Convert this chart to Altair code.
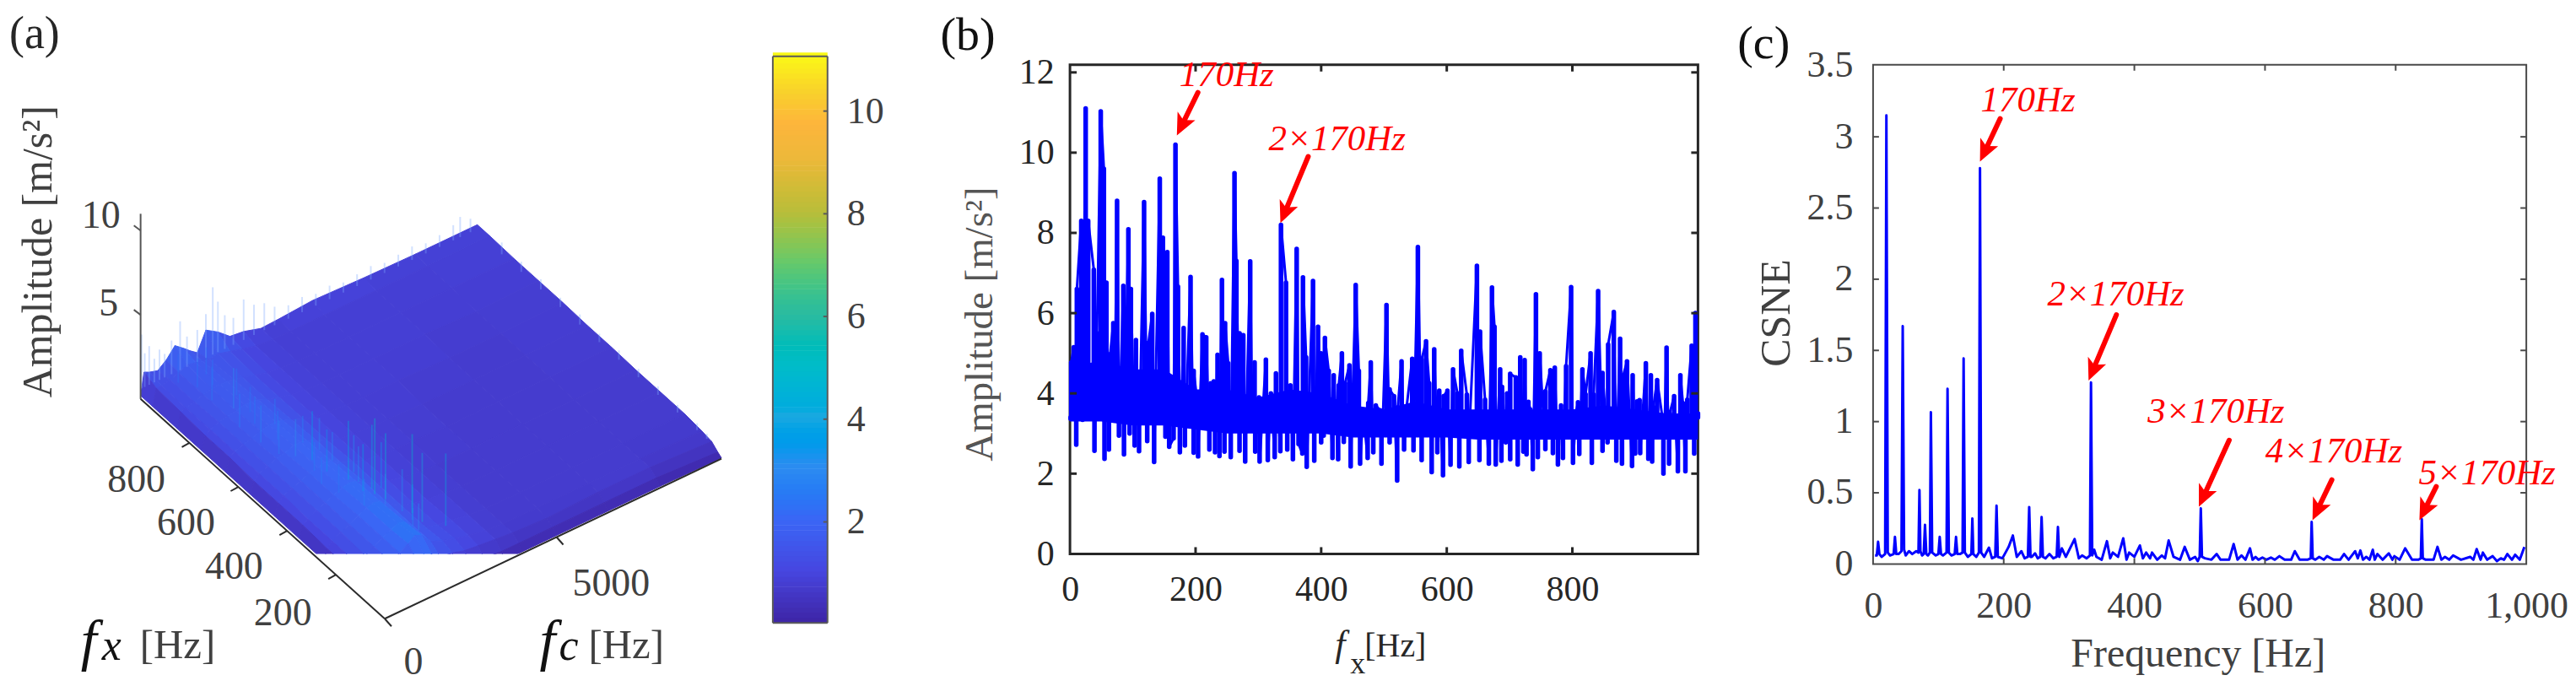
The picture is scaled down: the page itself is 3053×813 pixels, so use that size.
import math
import altair as alt
import pandas as pd

SERIF = "Liberation Serif"
RED = "#ff0000"
BLUE = "#0000ff"
DARK = "#262626"
MID = "#404040"

# ---------- panel (a): surface, rows = fx [Hz], columns = fc [Hz]
surf_fx = [0, 15, 40, 80, 150, 250, 350, 450, 550, 650, 750, 850, 950, 1000]
surf_fc = [0, 100, 250, 500, 750, 1000, 1250, 1450, 1650, 1900, 2250, 2600, 3000, 3500, 4000, 5000, 6500, 8000, 9800]
surf_amp = [
    [.05, .1, .1, .1, .1, .1, .1, .1, .1, .1, .1, .1, .1, .1, .1, .1, .1, .1, .05],
    [.1, .3, .4, .5, .6, .7, .8, .9, .9, .7, .6, .5, .5, .4, .4, .4, .4, .4, .2],
    [.2, .6, .8, 1.0, 1.2, 1.4, 1.6, 1.8, 1.7, 1.3, 1.2, 1.0, .9, .8, .7, .6, .7, .7, .5],
    [.2, .7, 1.0, 1.3, 1.6, 1.9, 2.2, 2.5, 2.3, 1.7, 1.4, 1.2, 1.0, .8, .7, .7, .7, .7, .6],
    [.2, .8, 1.1, 1.3, 1.6, 1.9, 2.1, 2.3, 2.2, 1.7, 1.3, 1.1, 1.0, .8, .7, .7, .7, .7, .7],
    [.2, .8, 1.1, 1.4, 1.6, 1.9, 2.1, 2.2, 2.1, 1.7, 1.3, 1.1, .9, .8, .7, .7, .7, .7, .7],
    [.2, .9, 1.1, 1.4, 1.6, 1.8, 2.0, 2.1, 2.0, 1.7, 1.3, 1.1, .9, .8, .7, .7, .7, .7, .7],
    [.2, .9, 1.2, 1.4, 1.6, 1.8, 1.9, 2.0, 1.9, 1.6, 1.3, 1.0, .9, .8, .8, .7, .7, .7, .75],
    [.2, .9, 1.2, 1.4, 1.6, 1.7, 1.9, 1.9, 1.8, 1.6, 1.2, 1.0, .9, .8, .8, .7, .7, .7, .75],
    [.2, 1.0, 1.2, 1.4, 1.5, 1.7, 1.8, 1.8, 1.7, 1.5, 1.2, 1.0, .9, .8, .8, .8, .7, .7, .8],
    [.2, 1.0, 1.2, 1.4, 1.5, 1.6, 1.7, 1.7, 1.6, 1.4, 1.2, 1.0, .9, .8, .8, .8, .8, .7, .8],
    [.2, 1.1, 1.2, 1.3, 1.5, 1.6, 1.6, 1.6, 1.5, 1.4, 1.2, 1.0, .9, .8, .8, .8, .8, .8, .8],
    [.2, 1.2, 1.2, 1.3, 1.5, 1.7, 1.6, 1.5, 1.4, 1.5, 1.3, 1.1, .9, .8, .8, .8, .8, .8, .85],
    [.2, 1.5, 1.35, 1.2, 1.6, 2.2, 1.8, 1.45, 1.15, 2.25, 1.8, 1.2, 1.1, .8, .85, 1.0, .9, .85, .85],
]
# vertical streaks on the surface: fx, fc, height
streak_fx = [170, 190, 130, 250, 280, 320, 300, 360, 420, 480, 520, 560, 620, 700, 760, 820, 880, 930, 100, 110, 140, 210, 230, 350, 400, 260, 340, 440, 600, 680, 500, 540, 640, 720, 790, 860, 900, 450, 380, 310]
streak_fc = [2300, 2150, 2700, 1800, 1700, 1900, 1500, 1500, 1300, 1300, 1100, 900, 800, 750, 1000, 800, 800, 600, 1700, 1600, 1800, 2000, 1650, 1150, 1000, 1250, 1650, 1600, 1150, 1050, 1650, 1450, 1350, 1200, 1300, 1100, 1200, 1150, 1800, 2100]
streak_amp = [5.4, 6.4, 5.5, 6.0, 6.6, 5.5, 5.0, 5.6, 4.5, 4.8, 4.0, 3.6, 3.8, 3.5, 4.0, 3.5, 3.2, 3.0, 3.9, 3.6, 4.4, 4.2, 4.0, 3.5, 3.4, 3.7, 4.2, 3.8, 3.4, 3.3, 3.8, 3.6, 3.4, 3.2, 3.3, 3.1, 3.2, 3.5, 4.2, 4.4]
# fringe of the far edge (fx = 1000): fc, height
edge_fc = [30, 120, 250, 400, 550, 700, 900, 1150, 1350, 1650, 1900, 2100, 2250, 2450, 2700, 3000, 3300, 3600, 3900, 4300, 4700, 5100, 5500, 5900, 6300, 6700, 7100, 7500, 7900, 8300, 8700, 9100, 9300, 9600]
edge_amp = [3.8, 2.6, 2.9, 2.0, 2.4, 2.0, 2.6, 3.5, 2.4, 2.5, 3.2, 4.6, 3.6, 2.6, 2.2, 3.0, 2.4, 2.2, 1.7, 1.4, 1.5, 1.3, 1.4, 1.2, 1.3, 1.4, 1.2, 1.3, 1.4, 1.2, 1.3, 1.5, 1.8, 1.4]
# fringe of the right edge (fc = 9800): fx, height
right_fx = [900, 820, 740, 660, 580, 500, 420, 340, 260, 180, 100, 60]
right_amp = [1.1, 1.0, 1.0, .95, 1.0, .9, .95, .9, .9, .85, .8, .7]

colorbar_ticks = [2, 4, 6, 8, 10]
parula_at = [.03, 1, 2, 3, 4, 5, 6, 7, 8, 9, 9.7, 10.3, 11.07]
parula_col = ["#3e26a8", "#4646e0", "#3a66f5", "#2d8bf0", "#1ba8e0", "#02bcc8", "#2bbb9f", "#66c96b", "#b9bd3a", "#ecb83a", "#fdb53c", "#f8d02c", "#f9fb15"]

# ---------- panel (b): peaks and troughs of the envelope spectrum
b_peak_f = [2, 6, 11, 18, 25, 29, 38, 43, 49, 54, 58, 64, 69, 75, 85, 93, 97, 105, 118, 125, 131, 143, 148, 155, 168, 172, 181, 192, 197, 203, 211, 217, 224, 229, 235, 242, 247, 252, 262, 265, 270, 276, 287, 294, 301, 312, 320, 328,
            336, 344, 351, 361, 371, 376, 387, 395, 400, 406, 412, 420, 428, 433, 438, 445, 455, 460, 467, 475, 479, 487, 494, 504, 509, 516, 522, 528, 536, 545, 554, 560, 567, 572, 580, 588, 595, 601, 610, 617, 623, 632, 637, 648, 653, 661,
            672, 676, 685, 688, 696, 701, 710, 717, 724, 730, 733, 742, 748, 757, 765, 772, 782, 790, 798, 806, 809, 816, 821, 829, 834, 841, 848, 857, 866, 876, 881, 887, 896, 903, 907, 917, 925, 929, 935, 943, 950, 955, 962, 972, 976, 983, 990, 996, 1000]
b_peak_v = [4.77, 5.15, 6.6, 8.3, 11.1, 8.3, 7.08, 5.5, 11.03, 9.6, 6.76, 4.98, 5.75, 8.8, 6.68, 8.09, 6.6, 5.33, 8.77, 5.26, 5.98, 9.35, 7.88, 7.52, 10.2, 6.66, 5.63, 6.9, 4.56, 3.76, 5.47, 5.4, 4.25, 4.3, 4.96, 6.83, 5.75, 4.75, 9.49, 7.3, 5.5, 5.45, 7.29, 4.77, 3.9, 4.84, 4.0, 4.5,
            8.2, 6.76, 4.2, 7.6, 6.89, 4.9, 6.8, 5.66, 5.0, 5.38, 4.56, 4.45, 4.2, 5.0, 4.25, 4.7, 6.7, 4.56, 3.5, 3.76, 4.77, 3.7, 3.58, 6.2, 4.1, 3.93, 3.65, 4.8, 3.65, 4.86, 7.65, 4.84, 5.3, 4.25, 5.1, 4.07, 3.93, 4.07, 4.6, 4.0, 5.06, 3.97, 3.44, 7.18, 5.54, 3.84,
            6.64, 5.66, 4.6, 4.16, 4.0, 4.49, 4.4, 4.9, 4.83, 3.79, 3.6, 6.47, 5.0, 4.05, 4.58, 4.64, 3.7, 4.68, 6.65, 3.55, 3.78, 4.6, 3.98, 5.0, 3.97, 6.55, 4.51, 5.22, 6.03, 5.36, 4.45, 4.8, 4.45, 3.8, 3.83, 4.75, 4.45, 3.66, 4.33, 3.44, 5.14, 3.5, 3.93, 4.45, 3.76, 3.84, 5.19, 6.0, 3.5]
b_trough_f = [1, 10, 20, 27, 39, 55, 62, 71, 78, 86, 95, 103, 110, 123, 134, 147, 152, 158, 165, 175, 183, 197, 204, 222, 231, 238, 246, 256, 270, 279, 290, 295, 302, 315, 326,
              335, 346, 355, 364, 370, 377, 389, 400, 404, 418, 427, 436, 447, 462, 474, 483, 496, 509, 521, 532, 547, 560, 576, 585, 594, 606, 620, 635, 652, 667,
              678, 687, 694, 701, 713, 722, 727, 737, 745, 757, 769, 777, 785, 801, 811, 831, 848, 856, 870, 879, 895, 900, 908, 921, 927, 945, 954, 968, 980, 994]
b_trough_v = [3.37, 2.72, 3.34, 3.4, 2.57, 2.37, 2.6, 3.49, 2.95, 2.48, 3.0, 2.7, 2.56, 2.81, 2.29, 3.37, 2.92, 2.67, 2.88, 2.53, 2.7, 2.52, 2.43, 2.6, 2.53, 2.44, 2.55, 2.41, 2.57, 2.3, 3.23, 2.55, 2.3, 2.34, 2.41,
              2.56, 2.6, 2.36, 2.74, 2.5, 2.17, 2.32, 2.78, 2.95, 2.39, 2.36, 2.79, 2.18, 2.25, 2.39, 2.53, 2.25, 2.78, 1.83, 2.6, 2.58, 2.34, 2.04, 2.53, 1.96, 2.22, 2.18, 2.29, 2.34, 2.25,
              2.23, 2.32, 2.78, 2.36, 2.23, 2.55, 2.48, 2.11, 2.41, 2.61, 2.51, 2.23, 2.39, 2.27, 2.49, 2.27, 2.57, 2.78, 2.32, 2.25, 2.19, 2.5, 2.51, 2.37, 2.3, 2.0, 2.25, 2.06, 2.06, 2.5]
# solid core of the trace, where it is too dense to see single swings
b_core_f = [0, 50, 100, 150, 200, 250, 300, 350, 400, 450, 500, 550, 600, 650, 700, 750, 800, 850, 900, 950, 1000]
b_core_lo = [3.3, 3.3, 3.2, 3.2, 3.1, 3.0, 3.0, 3.0, 3.0, 2.9, 2.9, 2.9, 2.9, 2.85, 2.85, 2.85, 2.85, 2.85, 2.85, 2.85, 2.85]
b_core_hi = [4.7, 4.8, 4.6, 4.6, 4.1, 4.1, 3.9, 4.1, 4.0, 3.7, 3.6, 3.8, 3.6, 3.6, 3.6, 3.6, 3.6, 3.7, 3.6, 3.5, 3.5]

# ---------- panel (c)
c_peak_f = [7.7, 20.4, 33.5, 45.4, 55, 71, 79.5, 88.5, 102, 114, 127, 138.6, 152, 163.7, 177.4, 189, 207.5, 214, 227, 239, 248, 258, 270, 283, 289, 308.5, 320, 333.6, 338.5, 358, 367, 383, 392, 408.5, 418, 427, 442, 452.5, 477, 493,
            501.7, 526, 552, 564, 577, 585.5, 596, 609, 622, 645.6, 671.4, 683, 695, 721, 738, 746, 755, 765, 772, 789.5, 798, 814.5, 840, 864, 875.5, 888, 914, 924, 933.5, 948.5, 961, 971, 983, 997]
c_peak_v = [.156, 3.15, .19, 1.67, .09, .52, .275, 1.066, .19, 1.23, .19, 1.444, .32, 2.78, .115, .41, .12, .2, .09, .40, .075, .33, .07, .26, .11, .175, .06, 1.275, .1, .16, .08, .18, .08, .13, .08, .08, .06, .165, .12, .05,
            .39, .07, .14, .06, .11, .05, .045, .045, .055, .09, .295, .05, .055, .07, .09, .095, .05, .1, .07, .075, .055, .11, .315, .12, .05, .06, .05, .105, .08, .055, .04, .07, .065, .12]
c_trough_f = [3, 13, 26, 39, 50, 60, 66, 75, 84, 96, 107, 120, 133, 145, 158, 170, 182, 198, 220, 232, 243, 252, 264, 276, 295, 315, 327, 342, 350, 363, 375, 388, 400, 413, 424, 435, 447, 460, 470, 485, 497, 508, 518, 532, 545, 558, 570, 581, 590, 602, 615, 630, 640, 653, 665, 677, 690, 705, 715, 728, 742, 750, 760, 768, 780, 795, 806, 825, 835, 846, 858, 870, 882, 900, 919, 930, 940, 955, 966, 978, 990,
              5.7, 9.7, 18.5, 22.5, 31.5, 35.5, 43.5, 47.5, 69.5, 72.5, 77.5, 81.5, 87, 90.5, 100, 104, 112.5, 116, 125, 129, 137, 140.5, 150.5, 153.5, 162, 165.5, 187, 191, 237, 241, 256, 260, 281, 285, 332, 335.5, 500, 503.5, 670, 673, 838.5, 841.5]
c_trough_v = [.06, .05, .06, .07, .06, .07, .09, .06, .06, .06, .06, .06, .07, .05, .05, .05, .04, .04, .05, .04, .05, .04, .04, .04, .05, .04, .04, .05, .03, .04, .05, .03, .05, .04, .04, .03, .04, .05, .03, .03, .02, .04, .03, .03, .03, .03, .03, .03, .03, .03, .03, .03, .03, .03, .03, .03, .03, .03, .03, .03, .04, .03, .03, .03, .03, .03, .03, .03, .03, .03, .03, .03, .03, .03, .03, .03, .03, .02, .03, .03, .03,
              .06, .07, .07, .08, .07, .07, .09, .1, .08, .09, .07, .07, .08, .08, .07, .07, .08, .08, .07, .07, .08, .08, .07, .07, .08, .08, .05, .05, .05, .05, .05, .05, .05, .05, .06, .06, .05, .05, .04, .04, .04, .04]

# ---------- page geometry of the three panels
TOP = 75
A_L, A_W, A_H = 8, 1054, 581
B_L, B_W, B_H = 1270, 746, 581
C_L, C_W, C_H = 2224, 776, 593
B_YMAX = 12.19
C_YMAX = 3.506
GAP = 208


def xy_page_a(px, py):
    return px, py


def xy_b(px, py):
    return (px - B_L) / B_W * 1000, (TOP + B_H - py) / B_H * B_YMAX


def xy_c(px, py):
    return (px - C_L) / C_W * 1000, (TOP + C_H - py) / C_H * C_YMAX


sx_a = alt.Scale(domain=[A_L, A_L + A_W], nice=False, zero=False)
sy_a = alt.Scale(domain=[TOP + A_H, TOP], nice=False, zero=False)
sx_b = alt.Scale(domain=[0, 1000], nice=False, zero=False)
sy_b = alt.Scale(domain=[0, B_YMAX], nice=False, zero=False)
sx_c = alt.Scale(domain=[0, 1000], nice=False, zero=False)
sy_c = alt.Scale(domain=[0, C_YMAX], nice=False, zero=False)
col_scale = alt.Scale(domain=parula_at, range=parula_col)


def make_axis(values, size, color, pad, fmt=None):
    kw = dict(values=values, title=None, grid=False, domain=False, ticks=False, labelFont=SERIF, labelFontSize=size,
              labelColor=color, labelPadding=pad, labelFlush=False)
    if fmt:
        kw["format"] = fmt
    return alt.Axis(**kw)


AXES = {
    id(sx_b): make_axis([0, 200, 400, 600, 800], 42, DARK, 22),
    id(sy_b): make_axis([0, 2, 4, 6, 8, 10, 12], 42, DARK, 19),
    id(sx_c): make_axis([0, 200, 400, 600, 800, 1000], 44, MID, 28),
    id(sy_c): make_axis([0, .5, 1, 1.5, 2, 2.5, 3, 3.5], 44, MID, 24, "~g"),
}


def enc_xy(sx, sy):
    return dict(x=alt.X("x:Q", scale=sx, axis=AXES.get(id(sx))), y=alt.Y("y:Q", scale=sy, axis=AXES.get(id(sy))))


def text_mark(txt, px, py, size, conv, sx, sy, color=DARK, italic=False, angle=0, align="left", baseline="alphabetic"):
    x, y = conv(px, py)
    kw = dict(font=SERIF, fontSize=size, color=color, align=align, baseline=baseline)
    if italic:
        kw["fontStyle"] = "italic"
    if angle:
        kw["angle"] = angle
    return alt.Chart(pd.DataFrame({"x": [x], "y": [y], "t": [txt]})).mark_text(**kw).encode(text="t:N", **enc_xy(sx, sy))


def arrow_marks(arrows, conv, sx, sy):
    out = []
    half = 15.0
    for (tx, ty, hx, hy) in arrows:
        L = math.hypot(hx - tx, hy - ty)
        ux, uy = (hx - tx) / L, (hy - ty) / L
        cx, cy = hx - ux * half, hy - uy * half
        ang = math.degrees(math.atan2(ux, -uy)) % 360
        x1, y1 = conv(tx, ty)
        x2, y2 = conv(cx, cy)
        shaft = pd.DataFrame({"x": [x1], "y": [y1], "x2": [x2], "y2": [y2]})
        out.append(alt.Chart(shaft).mark_rule(color=RED, strokeWidth=6, strokeCap="round").encode(
            x2="x2:Q", y2="y2:Q", **enc_xy(sx, sy)))
        head = pd.DataFrame({"x": [x2], "y": [y2], "a": [ang]})
        out.append(alt.Chart(head).mark_point(
            shape="M0,-1L0.78,0.72L0.08,0.32L-0.78,0.72Z", filled=True, opacity=1, color=RED,
            size=(2 * half) ** 2, strokeWidth=0).encode(angle=alt.Angle("a:Q", scale=None), **enc_xy(sx, sy)))
    return out


def box_ticks(xvals, yvals, xmax, ymax, xlen, ylen, color, width, sx, sy):
    rows = []
    for v in xvals:
        rows.append(dict(x=v, x2=v, y=0, y2=ylen))
        rows.append(dict(x=v, x2=v, y=ymax, y2=ymax - ylen))
    for v in yvals:
        rows.append(dict(x=0, x2=xlen, y=v, y2=v))
        rows.append(dict(x=xmax, x2=xmax - xlen, y=v, y2=v))
    return alt.Chart(pd.DataFrame(rows)).mark_rule(color=color, strokeWidth=width).encode(
        x2="x2:Q", y2="y2:Q", **enc_xy(sx, sy))


# ---------- panel (a)
def proj(fx, fc, amp):
    return (456 + 400 * fc / 9800 - 290 * fx / 1000, 733 - 190 * fc / 9800 - 261 * fx / 1000 - 20 * amp)


features = []
for i in range(len(surf_fx) - 2, -1, -1):
    for j in range(len(surf_fc) - 2, -1, -1):
        corners = [(i, j), (i, j + 1), (i + 1, j + 1), (i + 1, j)]
        ring = []
        for (r, c) in corners:
            px, py = proj(surf_fx[r], surf_fc[c], surf_amp[r][c])
            ring.append([px - A_L, py - TOP])
        ring.append(ring[0])
        amp = sum(surf_amp[r][c] for (r, c) in corners) / 4
        features.append({"type": "Feature", "properties": {"amp": amp},
                         "geometry": {"type": "Polygon", "coordinates": [ring]}})

surface = alt.Chart(alt.Data(values=features)).mark_geoshape(strokeWidth=1).encode(
    color=alt.Color("properties.amp:Q", scale=col_scale, legend=None),
    stroke=alt.Stroke("properties.amp:Q", scale=col_scale, legend=None),
).project(type="identity", scale=1, translate=[0, 0])


def surf_at(fx, fc):
    i = max(k for k in range(len(surf_fx)) if surf_fx[k] <= fx)
    j = max(k for k in range(len(surf_fc)) if surf_fc[k] <= fc)
    return surf_amp[i][j]


rows = []
for fx, fc, a in zip(streak_fx, streak_fc, streak_amp):
    x0, y0 = proj(fx, fc, surf_at(fx, fc))
    x1, y1 = proj(fx, fc, a)
    rows.append(dict(x=x0, y=y0, x2=x1, y2=y1, amp=a * 0.75))
streaks = alt.Chart(pd.DataFrame(rows)).mark_rule(strokeWidth=1.8, opacity=0.4).encode(
    x2="x2:Q", y2="y2:Q", color=alt.Color("amp:Q", scale=col_scale, legend=None), **enc_xy(sx_a, sy_a))

rows = []
for fc, a in zip(edge_fc, edge_amp):
    x0, y0 = proj(1000, fc, 0.6)
    x1, y1 = proj(1000, fc, a)
    rows.append(dict(x=x0, y=y0, x2=x1, y2=y1))
for fx, a in zip(right_fx, right_amp):
    x0, y0 = proj(fx, 9800, 0.4)
    x1, y1 = proj(fx, 9800, a)
    rows.append(dict(x=x0, y=y0, x2=x1, y2=y1))
fringe = alt.Chart(pd.DataFrame(rows)).mark_rule(strokeWidth=2, opacity=0.35, color="#7fa8ff").encode(
    x2="x2:Q", y2="y2:Q", **enc_xy(sx_a, sy_a))

# 3-D axes
p00, pfx, pfc = proj(0, 0, 0), proj(1000, 0, 0), proj(0, 9800, 0)
axis_rows = [
    dict(x=p00[0], y=p00[1], x2=pfx[0], y2=pfx[1]),
    dict(x=p00[0], y=p00[1], x2=pfc[0], y2=pfc[1]),
]
for fx in [200, 400, 600, 800]:
    p = proj(fx, 0, 0)
    axis_rows.append(dict(x=p[0], y=p[1], x2=p[0] - 9, y2=p[1] + 5))
for fc in [0, 5000]:
    p = proj(0, fc, 0)
    axis_rows.append(dict(x=p[0], y=p[1], x2=p[0] + 8, y2=p[1] + 9))
axes3d = alt.Chart(pd.DataFrame(axis_rows)).mark_rule(color="#2b2b2b", strokeWidth=2).encode(
    x2="x2:Q", y2="y2:Q", **enc_xy(sx_a, sy_a))
z_rows = [dict(x=166, y=472, x2=166, y2=252)]
for a in [5, 10]:
    p = proj(1000, 0, a)
    z_rows.append(dict(x=166, y=p[1], x2=158, y2=p[1] - 6))
axis_z = alt.Chart(pd.DataFrame(z_rows)).mark_rule(color="#555555", strokeWidth=2).encode(
    x2="x2:Q", y2="y2:Q", **enc_xy(sx_a, sy_a))


def cb_y(a):
    return 618 - (a - 2) * 61


levels = [0.03 + 0.1 * k for k in range(111)]
cb = pd.DataFrame({"x": [917] * len(levels), "x2": [982] * len(levels),
                   "y": [cb_y(a) for a in levels], "y2": [cb_y(a + 0.11) for a in levels], "amp": levels})
colorbar = alt.Chart(cb).mark_rect().encode(
    x2="x2:Q", y2="y2:Q", color=alt.Color("amp:Q", scale=col_scale, legend=None), **enc_xy(sx_a, sy_a))
cb_frame_rows = [dict(x=917, y=65, x2=982, y2=65), dict(x=917, y=738, x2=982, y2=738),
                 dict(x=917, y=65, x2=917, y2=738), dict(x=982, y=65, x2=982, y2=738)]
for t in colorbar_ticks:
    cb_frame_rows.append(dict(x=982, y=cb_y(t), x2=977, y2=cb_y(t)))
cb_frame = alt.Chart(pd.DataFrame(cb_frame_rows)).mark_rule(color="#5a5a5a", strokeWidth=2).encode(
    x2="x2:Q", y2="y2:Q", **enc_xy(sx_a, sy_a))

# invisible marker that fixes how far the top of the page lies above the panels
top_anchor = alt.Chart(pd.DataFrame([dict(x=20, y=8, y2=12)])).mark_rule(color="white", strokeWidth=0.1).encode(
    y2="y2:Q", **enc_xy(sx_a, sy_a))

GA = (xy_page_a, sx_a, sy_a)
texts_a = [
    text_mark("(a)", 10, 55, 54, *GA),
    text_mark("Amplitude [m/s²]", 45, 297, 50, *GA, color=MID, angle=270, align="center", baseline="middle"),
    text_mark("10", 119, 255, 46, *GA, color=MID, align="center", baseline="middle"),
    text_mark("5", 128, 359, 46, *GA, color=MID, align="center", baseline="middle"),
    text_mark("800", 161, 568, 46, *GA, color=MID, align="center", baseline="middle"),
    text_mark("600", 220, 620, 46, *GA, color=MID, align="center", baseline="middle"),
    text_mark("400", 277, 672, 46, *GA, color=MID, align="center", baseline="middle"),
    text_mark("200", 335, 727, 46, *GA, color=MID, align="center", baseline="middle"),
    text_mark("0", 490, 785, 46, *GA, color=MID, align="center", baseline="middle"),
    text_mark("5000", 725, 692, 46, *GA, color=MID, align="center", baseline="middle"),
    text_mark("f", 95, 782, 68, *GA, color="#111111", italic=True),
    text_mark("x", 120, 782, 52, *GA, color="#111111", italic=True),
    text_mark("[Hz]", 165, 780, 49, *GA, color=MID),
    text_mark("f", 640, 782, 68, *GA, color="#111111", italic=True),
    text_mark("c", 663, 782, 52, *GA, color="#111111", italic=True),
    text_mark("[Hz]", 698, 780, 49, *GA, color=MID),
]
for t in colorbar_ticks:
    texts_a.append(text_mark(str(t), 1005, cb_y(t) + 1, 44, *GA, color=MID, baseline="middle"))

panel_a = alt.layer(surface, fringe, streaks, axes3d, axis_z, colorbar, cb_frame, top_anchor, *texts_a).properties(
    width=A_W, height=A_H, view=alt.ViewBackground(stroke="transparent"))

# ---------- panel (b)
b_pts = sorted(zip(b_peak_f + b_trough_f, b_peak_v + b_trough_v))
b_df = pd.DataFrame(b_pts, columns=["x", "y"])
b_core = alt.Chart(pd.DataFrame({"x": b_core_f, "y": b_core_lo, "y2": b_core_hi})).mark_area(color=BLUE, opacity=1).encode(
    y2="y2:Q", **enc_xy(sx_b, sy_b))
b_stems = alt.Chart(pd.DataFrame({
    "x": b_peak_f + b_trough_f,
    "y": b_peak_v + b_trough_v,
    "y2": [3.4] * (len(b_peak_f) + len(b_trough_f)),
})).mark_rule(color=BLUE, strokeWidth=5.5, strokeCap="round").encode(y2="y2:Q", **enc_xy(sx_b, sy_b))
b_line = alt.Chart(b_df).mark_line(color=BLUE, strokeWidth=3, strokeJoin="round", clip=True).encode(**enc_xy(sx_b, sy_b))
b_ticks = box_ticks([200, 400, 600, 800], [2, 4, 6, 8, 10, 12], 1000, B_YMAX, 8 / B_W * 1000, 8 / B_H * B_YMAX, DARK, 3, sx_b, sy_b)
GB = (xy_b, sx_b, sy_b)
b_texts = [
    text_mark("(b)", 1116, 57, 56, *GB, color="#111111"),
    text_mark("Amplitude [m/s²]", 1164, 383, 47, *GB, color="#555555", angle=270, align="center", baseline="middle"),
    text_mark("f", 1585, 778, 44, *GB, color=DARK, italic=True),
    text_mark("x", 1603, 798, 36, *GB, color=DARK),
    text_mark("[Hz]", 1620, 778, 40, *GB, color=DARK),
    text_mark("170Hz", 1400, 100, 43, *GB, color=RED, italic=True),
    text_mark("2×170Hz", 1506, 176, 43, *GB, color=RED, italic=True),
]
b_arrows = arrow_marks([(1422, 108, 1397, 159), (1553, 184, 1520, 263)], *GB)
panel_b = alt.layer(b_core, b_stems, b_line, b_ticks, *b_arrows, *b_texts).properties(
    width=B_W, height=B_H, view=alt.ViewBackground(stroke=DARK, strokeWidth=3))

# ---------- panel (c)
c_pts = sorted(zip(c_peak_f + c_trough_f, c_peak_v + c_trough_v))
c_df = pd.DataFrame(c_pts, columns=["x", "y"])
c_line = alt.Chart(c_df).mark_line(color=BLUE, strokeWidth=3, strokeJoin="round").encode(**enc_xy(sx_c, sy_c))
c_ticks = box_ticks([200, 400, 600, 800], [.5, 1, 1.5, 2, 2.5, 3], 1000, C_YMAX, 7 / C_W * 1000, 7 / C_H * C_YMAX, "#4a4a4a", 2, sx_c, sy_c)
GC = (xy_c, sx_c, sy_c)
c_texts = [
    text_mark("(c)", 2063, 67, 56, *GC, color="#111111"),
    text_mark("CSNE", 2110, 370, 50, *GC, color=MID, angle=270, align="center", baseline="middle"),
    text_mark("Frequency [Hz]", 2459, 790, 48, *GC, color=MID),
    text_mark("170Hz", 2352, 130, 43, *GC, color=RED, italic=True),
    text_mark("2×170Hz", 2431, 361, 43, *GC, color=RED, italic=True),
    text_mark("3×170Hz", 2550, 500, 43, *GC, color=RED, italic=True),
    text_mark("4×170Hz", 2690, 547, 43, *GC, color=RED, italic=True),
    text_mark("5×170Hz", 2872, 573, 43, *GC, color=RED, italic=True),
]
c_arrows = arrow_marks([(2375, 139, 2351, 190), (2513, 372, 2480, 450), (2647, 521, 2611, 600),
                        (2769, 568, 2746, 616), (2893, 576, 2873, 616)], *GC)
panel_c = alt.layer(c_line, c_ticks, *c_arrows, *c_texts).properties(
    width=C_W, height=C_H, view=alt.ViewBackground(stroke="#4a4a4a", strokeWidth=2))

chart = alt.hconcat(panel_a, panel_b, panel_c, spacing=GAP, bounds="flush").properties(
    padding=0, background="white")
chart.save("out.html", embed_options={"renderer": "svg", "actions": False})
